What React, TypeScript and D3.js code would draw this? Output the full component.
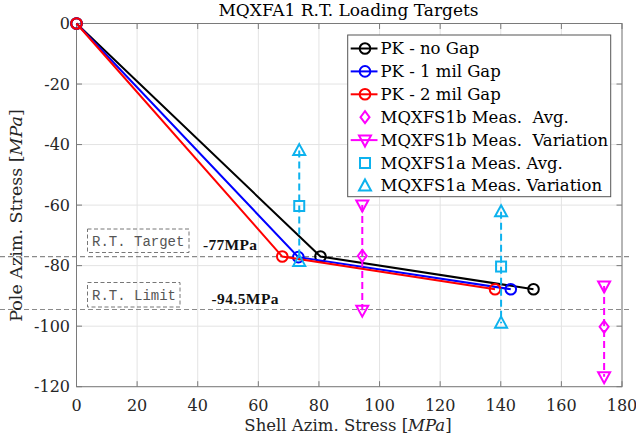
import React from "react";
import * as d3 from "d3";

// ---------- data ----------
const xTicks = [0, 20, 40, 60, 80, 100, 120, 140, 160, 180];
const yTicks = [0, -20, -40, -60, -80, -100, -120];

const shellNoGap = [0, 80.5, 150.8];
const poleNoGap = [0, -77, -87.8];
const shell1mil = [0, 73.2, 143.3];
const pole1mil = [0, -77.2, -87.8];
const shell2mil = [0, 67.9, 138.1];
const pole2mil = [0, -77, -87.8];

const s1bShell = [94.3, 174.1];
const s1bAvg = [-76.8, -100.2];
const s1bHigh = [-60, -86.7];
const s1bLow = [-94.7, -116.7];

const s1aShell = [73.5, 140.1];
const s1aAvg = [-60.3, -80.3];
const s1aHigh = [-42, -62.2];
const s1aLow = [-78.6, -99];

const targetValue = -77;
const limitValue = -94.5;

const legendLabels = [
  "PK - no Gap",
  "PK - 1 mil Gap",
  "PK - 2 mil Gap",
  "MQXFS1b Meas.  Avg.",
  "MQXFS1b Meas.  Variation",
  "MQXFS1a Meas. Avg.",
  "MQXFS1a Meas. Variation",
];

// ---------- layout ----------
const W = 636;
const H = 442;
const x = d3.scaleLinear().domain([0, 180]).range([76.5, 622]);
const y = d3.scaleLinear().domain([-120, 0]).range([386.7, 23.5]);

const MAG = "#ff00ff";
const CYAN = "#0db2ee";
const SERIF = "'DejaVu Serif', serif";

const line = d3
  .line<[number, number]>()
  .x((d) => x(d[0]))
  .y((d) => y(d[1]));

const zip = (a: number[], b: number[]) => a.map((v, i) => [v, b[i]] as [number, number]);

const triUp = (cx: number, cy: number, c: string, key?: string) => (
  <path key={key} d={`M${cx},${cy - 6.5} L${cx + 6},${cy + 4.5} L${cx - 6},${cy + 4.5} Z`} fill="none" stroke={c} strokeWidth={2} />
);
const triDown = (cx: number, cy: number, c: string, key?: string) => (
  <path key={key} d={`M${cx},${cy + 6.5} L${cx + 6},${cy - 4.5} L${cx - 6},${cy - 4.5} Z`} fill="none" stroke={c} strokeWidth={2} />
);
const diamond = (cx: number, cy: number, c: string, key?: string) => (
  <path key={key} d={`M${cx},${cy - 6} L${cx + 4.5},${cy} L${cx},${cy + 6} L${cx - 4.5},${cy} Z`} fill="none" stroke={c} strokeWidth={2} />
);
const square = (cx: number, cy: number, c: string, key?: string) => (
  <rect key={key} x={cx - 5} y={cy - 5} width={10} height={10} fill="none" stroke={c} strokeWidth={2} />
);
const circle = (cx: number, cy: number, c: string, key?: string) => (
  <circle key={key} cx={cx} cy={cy} r={5.3} fill="none" stroke={c} strokeWidth={2} />
);

export default function App() {
  const [x0, x1] = x.range();
  const [yb, yt] = y.range();
  const series = [
    { xs: shellNoGap, ys: poleNoGap, c: "#000000" },
    { xs: shell1mil, ys: pole1mil, c: "#0000ff" },
    { xs: shell2mil, ys: pole2mil, c: "#ff0000" },
  ];
  const tick = 5.5;
  const axisC = "#7a7a7a";

  const legX = 347.7;
  const legY = 35;
  const legW = 263;
  const legH = 161.7;
  const rowY0 = 48.5;
  const rowDy = 22.9;
  const sx = 365;

  return (
    <div style={{ position: "fixed", left: 0, top: 0 }}>
      <svg width={W} height={H} style={{ display: "block", background: "#fff" }}>
        {/* grid */}
        {xTicks.map((t) => (
          <line key={"gx" + t} x1={x(t)} x2={x(t)} y1={yb} y2={yt} stroke="#e3e3e3" strokeWidth={1} />
        ))}
        {yTicks.map((t) => (
          <line key={"gy" + t} x1={x0} x2={x1} y1={y(t)} y2={y(t)} stroke="#e3e3e3" strokeWidth={1} />
        ))}

        {/* reference lines */}
        {[targetValue, limitValue].map((v) => (
          <line key={"ref" + v} x1={0} x2={632} y1={y(v)} y2={y(v)} stroke="#8a8a8a" strokeWidth={1.2} strokeDasharray="5,3" />
        ))}

        {/* axes box */}
        <rect x={x0} y={yt} width={x1 - x0} height={yb - yt} fill="none" stroke={axisC} strokeWidth={1} />
        {xTicks.map((t) => (
          <g key={"tx" + t}>
            <line x1={x(t)} x2={x(t)} y1={yb} y2={yb - tick} stroke={axisC} />
            <line x1={x(t)} x2={x(t)} y1={yt} y2={yt + tick} stroke={axisC} />
            <text x={x(t)} y={411} textAnchor="middle" fontFamily={SERIF} fontSize={16} fill="#262626">
              {t}
            </text>
          </g>
        ))}
        {yTicks.map((t) => (
          <g key={"ty" + t}>
            <line x1={x0} x2={x0 + tick} y1={y(t)} y2={y(t)} stroke={axisC} />
            <line x1={x1} x2={x1 - tick} y1={y(t)} y2={y(t)} stroke={axisC} />
            <text x={70} y={y(t) + 5.5} textAnchor="end" fontFamily={SERIF} fontSize={16} fill="#262626">
              {t}
            </text>
          </g>
        ))}

        {/* PK series */}
        {series.map((s, i) => (
          <g key={"s" + i}>
            <path d={line(zip(s.xs, s.ys)) || ""} fill="none" stroke={s.c} strokeWidth={2} />
            {s.xs.map((v, j) => circle(x(v), y(s.ys[j]), s.c, "c" + j))}
          </g>
        ))}

        {/* MQXFS1b */}
        {s1bShell.map((v, i) => (
          <g key={"b" + i}>
            <line x1={x(v)} x2={x(v)} y1={y(s1bHigh[i])} y2={y(s1bLow[i])} stroke={MAG} strokeWidth={2} strokeDasharray="7,4" />
            {triDown(x(v), y(s1bHigh[i]), MAG)}
            {triDown(x(v), y(s1bLow[i]), MAG)}
            {diamond(x(v), y(s1bAvg[i]), MAG)}
          </g>
        ))}

        {/* MQXFS1a */}
        {s1aShell.map((v, i) => (
          <g key={"a" + i}>
            <line x1={x(v)} x2={x(v)} y1={y(s1aHigh[i])} y2={y(s1aLow[i])} stroke={CYAN} strokeWidth={2} strokeDasharray="7,4" />
            {triUp(x(v), y(s1aHigh[i]), CYAN)}
            {triUp(x(v), y(s1aLow[i]), CYAN)}
            {square(x(v), y(s1aAvg[i]), CYAN)}
          </g>
        ))}

        {/* annotations */}
        <rect x={87.5} y={229} width={101.5} height={23.5} fill="none" stroke="#777" strokeWidth={1} strokeDasharray="4,2.5" />
        <text x={92} y={246} fontFamily="'Liberation Mono', monospace" fontSize={14} fill="#555">
          R.T. Target
        </text>
        <rect x={87.5} y={282.5} width={92.5} height={24.5} fill="none" stroke="#777" strokeWidth={1} strokeDasharray="4,2.5" />
        <text x={92} y={300} fontFamily="'Liberation Mono', monospace" fontSize={14} fill="#555">
          R.T. Limit
        </text>
        <text x={203} y={250} fontFamily="'Liberation Serif', serif" fontWeight="bold" fontSize={15.5} fill="#111" textLength={54}>
          -77MPa
        </text>
        <text x={211.5} y={304} fontFamily="'Liberation Serif', serif" fontWeight="bold" fontSize={15.5} fill="#111" textLength={67}>
          -94.5MPa
        </text>

        {/* legend */}
        <rect x={legX} y={legY} width={legW} height={legH} fill="#fff" stroke="#555" strokeWidth={1} />
        {legendLabels.map((lab, i) => {
          const cy = rowY0 + i * rowDy;
          let sample: React.ReactNode = null;
          if (i < 3) {
            const c = series[i].c;
            sample = (
              <g>
                <line x1={350.7} x2={377.5} y1={cy} y2={cy} stroke={c} strokeWidth={2} />
                {circle(sx, cy, c)}
              </g>
            );
          } else if (i === 3) sample = diamond(sx, cy, MAG);
          else if (i === 4)
            sample = (
              <g>
                <line x1={350.7} x2={377.5} y1={cy} y2={cy} stroke={MAG} strokeWidth={2} />
                {triDown(sx, cy, MAG)}
              </g>
            );
          else if (i === 5) sample = square(sx, cy, CYAN);
          else sample = triUp(sx, cy, CYAN);
          return (
            <g key={"l" + i}>
              {sample}
              <text x={380.5} y={cy + 5.5} fontFamily={SERIF} fontSize={16.5} fill="#000" style={{ whiteSpace: "pre" }}>
                {lab}
              </text>
            </g>
          );
        })}

        {/* title & labels */}
        <text x={348.5} y={16} textAnchor="middle" fontFamily={SERIF} fontSize={17} fill="#000">
          MQXFA1 R.T. Loading Targets
        </text>
        <text x={348} y={431} textAnchor="middle" fontFamily={SERIF} fontSize={16.5} fill="#262626">
          Shell Azim. Stress [<tspan fontStyle="italic">MPa</tspan>]
        </text>
        <text
          transform={`translate(22,${215.5}) rotate(-90)`}
          textAnchor="middle"
          fontFamily={SERIF}
          fontSize={17.5}
          fill="#262626"
        >
          Pole Azim. Stress [<tspan fontStyle="italic">MPa</tspan>]
        </text>
      </svg>
    </div>
  );
}
